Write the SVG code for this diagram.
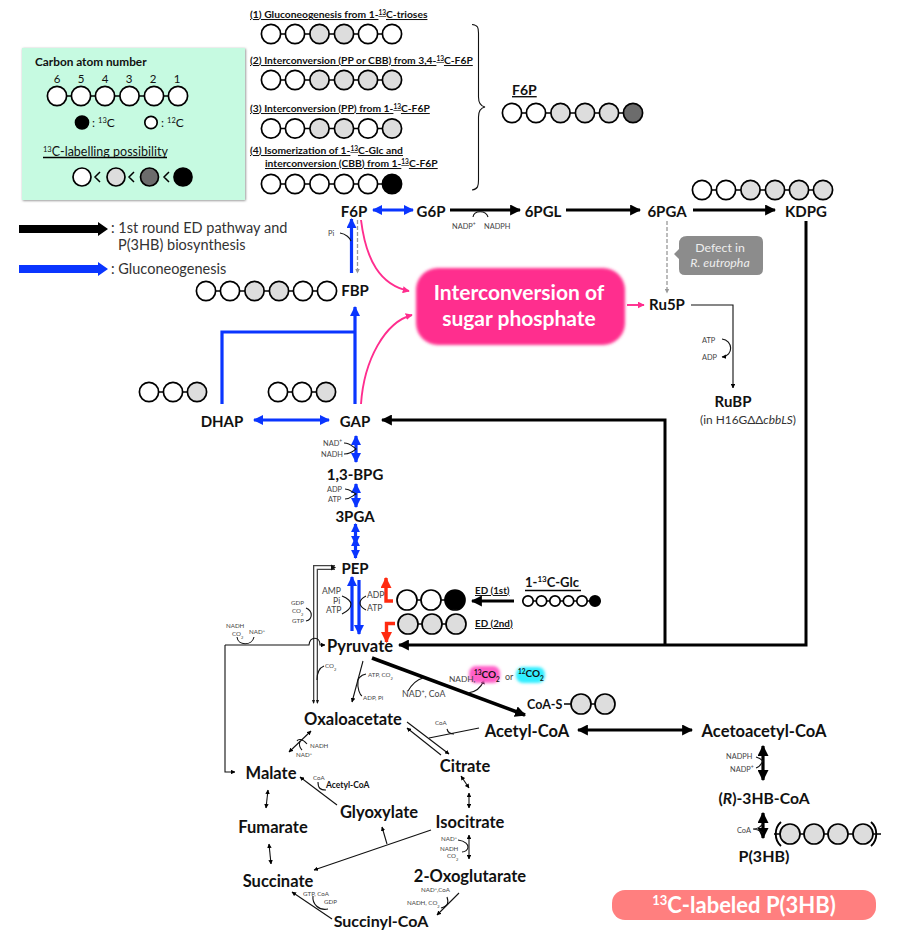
<svg xmlns="http://www.w3.org/2000/svg" width="897" height="930" viewBox="0 0 897 930">
<defs>
<style>
text{font-family:Lato,"Open Sans","Liberation Sans",sans-serif;fill:#111}
.n{font-weight:700;font-size:15px;text-anchor:middle}
.n2{font-weight:700;font-size:16.5px;text-anchor:middle}
.h{font-weight:700;font-size:10.3px;text-decoration:underline}
.t{font-size:6.2px;fill:#444}
.s{font-size:7.4px;fill:#444}
.m{font-size:8.6px;fill:#444}
.leg{font-size:14.5px;fill:#333}
.c{stroke:#000;stroke-width:1.7}
.w{fill:#fff}.g{fill:#ddd}.d{fill:#6c6c6c}.k{fill:#000}
.l{fill:none;stroke:#000;stroke-width:1.5}
.a{fill:none;stroke:#111;stroke-width:1.1}
.b1{fill:none;stroke:#000;stroke-width:3}
.bl{fill:none;stroke:#0a35ff;stroke-width:3.2}
.pk{fill:none;stroke:#ff2d8e;stroke-width:1.9}
.red{fill:none;stroke:#ff2a10;stroke-width:3.4}
.dash{fill:none;stroke:#999;stroke-width:1.3;stroke-dasharray:4 2}
</style>
<marker id="mk" viewBox="0 0 10 10" refX="9" refY="5" markerWidth="11" markerHeight="11" markerUnits="userSpaceOnUse" orient="auto-start-reverse"><path d="M0,0L10,5L0,10z" fill="#000"/></marker>
<marker id="mb" viewBox="0 0 10 10" refX="9" refY="5" markerWidth="10" markerHeight="10" markerUnits="userSpaceOnUse" orient="auto-start-reverse"><path d="M0,0L10,5L0,10z" fill="#0a35ff"/></marker>
<marker id="mb2" viewBox="0 0 10 10" refX="9" refY="5" markerWidth="9" markerHeight="9" markerUnits="userSpaceOnUse" orient="auto-start-reverse"><path d="M0,0L10,5L0,10z" fill="#0a35ff"/></marker>
<marker id="mr" viewBox="0 0 10 10" refX="9" refY="5" markerWidth="11" markerHeight="11" markerUnits="userSpaceOnUse" orient="auto-start-reverse"><path d="M0,0L10,5L0,10z" fill="#ff2a10"/></marker>
<marker id="mp" viewBox="0 0 10 10" refX="9" refY="5" markerWidth="7" markerHeight="7" markerUnits="userSpaceOnUse" orient="auto"><path d="M0,0L10,5L0,10z" fill="#ff2d8e"/></marker>
<marker id="mg" viewBox="0 0 10 10" refX="9" refY="5" markerWidth="5" markerHeight="5" markerUnits="userSpaceOnUse" orient="auto"><path d="M0,0L10,5L0,10z" fill="#999"/></marker>
<marker id="ms" viewBox="0 0 10 10" refX="9" refY="5" markerWidth="4.5" markerHeight="4.5" markerUnits="userSpaceOnUse" orient="auto-start-reverse"><path d="M0,0L10,5L0,10z" fill="#000"/></marker>
<filter id="sh" x="-5%" y="-5%" width="110%" height="110%"><feDropShadow dx="0.7" dy="0.7" stdDeviation="0.8" flood-color="#888"/></filter>
<filter id="bl" x="-10%" y="-10%" width="120%" height="120%"><feGaussianBlur stdDeviation="1.4"/></filter>
<filter id="gl" x="-30%" y="-50%" width="160%" height="200%"><feGaussianBlur stdDeviation="1.6"/></filter>
</defs>

<g id="legend">
<rect x="22" y="48" width="223" height="152" fill="#c6fae1" filter="url(#sh)"/>
<text x="35" y="66" font-size="11.8" font-weight="700">Carbon atom number</text>
<g font-size="11.5" text-anchor="middle"><text x="57" y="83">6</text><text x="81" y="83">5</text><text x="105" y="83">4</text><text x="129" y="83">3</text><text x="153" y="83">2</text><text x="177" y="83">1</text></g>
<path class="l" d="M57,96H178"/>
<circle class="c w" cx="57" cy="96" r="9.600"/><circle class="c w" cx="81" cy="96" r="9.600"/><circle class="c w" cx="105" cy="96" r="9.600"/><circle class="c w" cx="129.500" cy="96" r="9.600"/><circle class="c w" cx="154" cy="96" r="9.600"/><circle class="c w" cx="178" cy="96" r="9.600"/>
<circle class="c k" cx="82" cy="122.500" r="6.500"/><text x="92" y="127" font-size="12">: <tspan font-size="7.500" baseline-shift="super">13</tspan>C</text>
<circle class="c w" cx="151" cy="122.500" r="6.200"/><text x="161" y="127" font-size="12">: <tspan font-size="7.500" baseline-shift="super">12</tspan>C</text>
<text x="43" y="156" font-size="12.500"><tspan font-size="7.500" baseline-shift="super">13</tspan>C-labelling possibility</text>
<path d="M43,157.500H167" stroke="#000" stroke-width="1.300"/>
<circle class="c w" cx="82" cy="177" r="9"/><circle class="c g" cx="116" cy="177" r="9"/><circle class="c d" cx="149.500" cy="177" r="9"/><circle class="c k" cx="183" cy="177" r="9"/>
<path class="l" d="M100,172L95,177L100,182M134,172L129,177L134,182M169,172L164,177L169,182" stroke-width="1.800"/>
</g>

<g id="key">
<path d="M19,225H98V222L108,229L98,236V233H19z" fill="#000"/>
<text class="leg" x="111" y="233">: 1st round ED pathway and</text>
<text class="leg" x="118" y="250">P(3HB) biosynthesis</text>
<path d="M19,265H98V262L108,269L98,276V273H19z" fill="#0a35ff"/>
<text class="leg" x="111" y="274">: Gluconeogenesis</text>
</g>

<g id="scenarios">
<text class="h" x="250" y="18">(1) Gluconeogenesis from 1-<tspan font-size="6.500" baseline-shift="super">13</tspan>C-trioses</text>
<path class="l" d="M271,34H392"/>
<circle class="c w" cx="271" cy="34" r="9.600"/><circle class="c w" cx="295" cy="34" r="9.600"/><circle class="c g" cx="319.500" cy="34" r="9.600"/><circle class="c g" cx="344" cy="34" r="9.600"/><circle class="c w" cx="368" cy="34" r="9.600"/><circle class="c w" cx="392" cy="34" r="9.600"/>
<text class="h" x="250" y="64">(2) Interconversion (PP or CBB) from 3,4-<tspan font-size="6.500" baseline-shift="super">13</tspan>C-F6P</text>
<path class="l" d="M271,80H392"/>
<circle class="c w" cx="271" cy="80" r="9.600"/><circle class="c w" cx="295" cy="80" r="9.600"/><circle class="c g" cx="319.500" cy="80" r="9.600"/><circle class="c g" cx="344" cy="80" r="9.600"/><circle class="c g" cx="368" cy="80" r="9.600"/><circle class="c g" cx="392" cy="80" r="9.600"/>
<text class="h" x="250" y="112">(3) Interconversion (PP) from 1-<tspan font-size="6.500" baseline-shift="super">13</tspan>C-F6P</text>
<path class="l" d="M271,128.500H392"/>
<circle class="c w" cx="271" cy="128.500" r="9.600"/><circle class="c w" cx="295" cy="128.500" r="9.600"/><circle class="c g" cx="319.500" cy="128.500" r="9.600"/><circle class="c g" cx="344" cy="128.500" r="9.600"/><circle class="c w" cx="368" cy="128.500" r="9.600"/><circle class="c g" cx="392" cy="128.500" r="9.600"/>
<text class="h" x="250" y="154">(4) Isomerization of 1-<tspan font-size="6.500" baseline-shift="super">13</tspan>C-Glc and</text>
<text class="h" x="265" y="167">interconversion (CBB) from 1-<tspan font-size="6.500" baseline-shift="super">13</tspan>C-F6P</text>
<path class="l" d="M271,184H392"/>
<circle class="c w" cx="271" cy="184" r="9.600"/><circle class="c w" cx="295" cy="184" r="9.600"/><circle class="c w" cx="319.500" cy="184" r="9.600"/><circle class="c w" cx="344" cy="184" r="9.600"/><circle class="c w" cx="368" cy="184" r="9.600"/><circle class="c k" cx="392" cy="184" r="9.600"/>
<path class="a" d="M472,24.500C478,25 478.500,28 478.500,33V97C478.500,103 480,106 485,107C480,108 478.500,111 478.500,117V180C478.500,186 478,189 472,190"/>
<text x="512" y="95" font-size="14" font-weight="700" text-decoration="underline">F6P</text>
<path class="l" d="M512,113H633"/>
<circle class="c w" cx="512" cy="113" r="9.600"/><circle class="c w" cx="536" cy="113" r="9.600"/><circle class="c g" cx="560.500" cy="113" r="9.600"/><circle class="c g" cx="585" cy="113" r="9.600"/><circle class="c g" cx="609" cy="113" r="9.600"/><circle class="c d" cx="633" cy="113" r="9.600"/>
</g>

<g id="connectors">
<path class="bl" d="M373,210H413" marker-start="url(#mb)" marker-end="url(#mb)"/>
<path class="b1" d="M450,210H520" marker-end="url(#mk)"/>
<path class="b1" d="M566,210H640" marker-end="url(#mk)"/>
<path class="b1" d="M693,210H775" marker-end="url(#mk)"/>
<path class="a" d="M473,217C474,210 486,210 488,217" stroke-width="1.200"/>
<path class="b1" d="M806,221V645H399" marker-end="url(#mk)"/>
<path class="b1" d="M665,645V420H382" marker-end="url(#mk)"/>
<path class="dash" d="M667,221V293" marker-end="url(#mg)"/>
<path class="pk" d="M627,305H644" marker-end="url(#mp)"/>
<path class="a" d="M691,305H733V388" stroke-width="1.200" marker-end="url(#ms)"/>
<path class="a" d="M722,339C733,340 734,356 722,357" marker-end="url(#ms)"/>
<path class="bl" d="M351.500,273V219" marker-end="url(#mb)"/>
<path class="dash" d="M357.500,220V273" marker-end="url(#mg)"/>
<path class="a" d="M340,233C346,234 350,238 351,241"/>
<path class="pk" d="M361,220C366,260 380,285 409,291" marker-end="url(#mp)"/>
<path class="pk" d="M361,404C364,360 385,322 412,315" marker-end="url(#mp)"/>
<path class="bl" d="M355,404V307" marker-end="url(#mb)"/>
<path class="bl" d="M222,404V332H355" />
<path class="bl" d="M254,420H329" marker-start="url(#mb)" marker-end="url(#mb)"/>
<path class="bl" d="M356,436V462" marker-start="url(#mb)" marker-end="url(#mb)"/>
<path class="a" d="M344,443C350,443 352,446 356,449C352,452 350,454 344,454"/>
<path class="bl" d="M356,484V507" marker-start="url(#mb)" marker-end="url(#mb)"/>
<path class="a" d="M345,489C350,489 352,492 356,494C352,496 350,499 345,499"/>
<path class="bl" d="M355.500,524V544" marker-start="url(#mb2)" marker-end="url(#mb2)"/>
<path class="bl" d="M355.500,538V558" marker-start="url(#mb2)" marker-end="url(#mb2)"/>
<path class="bl" d="M352,631V577" marker-end="url(#mb)"/>
<path class="bl" d="M359,580V634" marker-end="url(#mb)"/>
<path class="a" d="M342,596C348,598 351,602 351,604C351,608 348,611 342,614"/>
<path class="a" d="M366,596C362,598 360,601 360,603C360,606 362,608 366,610"/>
<path class="red" d="M393,601H386V578" marker-end="url(#mr)"/>
<path class="red" d="M395,623.500H386.500V642" marker-end="url(#mr)"/>
<path class="b1" d="M514,601H472" marker-end="url(#mk)"/>
<path d="M335,567.500H315.500V703" fill="none" stroke="#444" stroke-width="5"/>
<path d="M337,567.500H315.500V703" fill="none" stroke="#fff" stroke-width="2.400"/>
<path d="M331,564.500L336,567.500L331,570.500z" fill="#111"/>
<path d="M312,700L313.500,704L315,700zM316,700L317.500,704L319,700z" fill="#111"/>
<path class="a" d="M225,645H309C310,636 320,636 320,645H325" stroke="#444" stroke-width="1.300" marker-end="url(#ms)"/>
<path class="a" d="M225,645V772H235" stroke="#444" stroke-width="1.300" marker-end="url(#ms)"/>
<path class="a" d="M237,637C238,646 252,646 254,637" stroke-width="1.300"/>
<path class="a" d="M306,608C313,611 313,619 306,621"/>
<path class="a" d="M317,680C317,673 319,668 324,666" stroke-width="1"/>
<path class="a" d="M363,661L352,702" marker-end="url(#ms)" stroke-width="1.200"/>
<path class="a" d="M366,674C360,675 357,680 358,682C357,688 360,695 362,696" stroke-width="1"/>
<path d="M372,658L525,715" fill="none" stroke="#000" stroke-width="3.600" marker-end="url(#mk)"/>
<path class="a" d="M408,691C412,684 416,680 423,678" stroke-width="1"/>
<path class="a" d="M468,693C476,692 481,688 484,680" stroke-width="1" marker-end="url(#ms)"/>
<path class="b1" d="M578,730H692" marker-start="url(#mk)" marker-end="url(#mk)"/>
<path d="M763,746V780" fill="none" stroke="#000" stroke-width="3.200" marker-start="url(#mk)" marker-end="url(#mk)"/>
<path class="a" d="M756,757C760,758 761,759 763,761C761,764 760,767 756,768"/>
<path d="M763,813V838" fill="none" stroke="#000" stroke-width="3.200" marker-start="url(#mk)" marker-end="url(#mk)"/>
<path class="a" d="M753,829C758,829 760,827 763,824M753,829C758,829 760,831 763,833"/>
<path class="a" d="M407,722L449,754" stroke-width="1.200" marker-end="url(#ms)"/>
<path class="a" d="M441,755L407,728" stroke-width="1.200" marker-end="url(#ms)"/>
<path class="a" d="M479,728L429,738" stroke-width="1.200"/>
<path class="a" d="M447,729C448,733 450,734 454,734"/>
<path class="a" d="M311,731L289,752" stroke-width="1.200" marker-start="url(#ms)" marker-end="url(#ms)"/>
<path class="a" d="M307,744C302,738 298,739 297,741"/>
<path class="a" d="M302,750C299,747 299,744 300,741"/>
<path class="a" d="M337,805L300,777" stroke-width="1.200" marker-end="url(#ms)"/>
<path class="a" d="M318,782C318,788 320,790 326,790"/>
<path class="a" d="M268,790L266,808" stroke-width="1.100" marker-start="url(#ms)" marker-end="url(#ms)"/>
<path class="a" d="M269,844L271,864" stroke-width="1.100" marker-start="url(#ms)" marker-end="url(#ms)"/>
<path class="a" d="M461,776L469,788" stroke-width="1.100" marker-start="url(#ms)" marker-end="url(#ms)"/>
<path class="a" d="M469,793V808" stroke-width="1.100" marker-start="url(#ms)" marker-end="url(#ms)"/>
<path class="a" d="M431,830L314,870" stroke-width="1.200" marker-end="url(#ms)"/>
<path class="a" d="M387,844L382,827" stroke-width="1.200" marker-end="url(#ms)"/>
<path class="a" d="M469,835V859" stroke-width="1.100" marker-start="url(#ms)" marker-end="url(#ms)"/>
<path class="a" d="M458,840C466,841 468,845 468,847C468,850 465,852 462,852"/>
<path class="a" d="M459,893L437,915" stroke-width="1.200" marker-end="url(#ms)"/>
<path class="a" d="M447,897C449,903 448,906 441,908"/>
<path class="a" d="M332,919L292,892" stroke-width="1.200" marker-end="url(#ms)"/>
<path class="a" d="M313,896C312,904 319,911 328,909"/>
</g>

<g id="node-F6P"><text class="n" x="354" y="217">F6P</text></g>
<g id="node-G6P"><text class="n" x="431" y="217">G6P</text></g>
<g id="node-6PGL"><text class="n" x="543" y="217">6PGL</text></g>
<g id="node-6PGA"><text class="n" x="667" y="217">6PGA</text></g>
<g id="node-KDPG"><text class="n" x="806" y="217">KDPG</text>
<path class="l" d="M702,190H823"/>
<circle class="c w" cx="702" cy="190" r="9.600"/><circle class="c w" cx="726" cy="190" r="9.600"/><circle class="c g" cx="750.500" cy="190" r="9.600"/><circle class="c g" cx="775" cy="190" r="9.600"/><circle class="c g" cx="799" cy="190" r="9.600"/><circle class="c g" cx="823" cy="190" r="9.600"/></g>
<g id="cofactors-top"><text class="s" x="452" y="229">NADP<tspan font-size="5" baseline-shift="super">+</tspan></text><text class="s" x="484" y="229">NADPH</text><text class="s" x="328" y="236">Pi</text></g>

<g id="node-Defect">
<path d="M687,236H757Q763,236 763,242V269Q763,275 757,275H685Q679,275 679,269V259L674,254L679,249V244Q679,236 687,236z" fill="#8c8c8c"/>
<text x="720" y="252" font-size="12.300" text-anchor="middle" style="fill:#eee">Defect in</text>
<text x="720" y="267" font-size="12.300" text-anchor="middle" font-style="italic" style="fill:#eee">R. eutropha</text>
</g>
<g id="node-Interconversion">
<rect x="416" y="268" width="209" height="77" rx="22" fill="#ff2d8e" filter="url(#bl)"/>
<text x="519" y="300" font-size="21" font-weight="700" text-anchor="middle" style="fill:#fff">Interconversion of</text>
<text x="519" y="326" font-size="21" font-weight="700" text-anchor="middle" style="fill:#fff">sugar phosphate</text>
</g>
<g id="node-Ru5P"><text class="n" x="667" y="310">Ru5P</text></g>
<g id="node-RuBP"><text class="n" x="733" y="407">RuBP</text>
<text x="748" y="424" font-size="11.900" text-anchor="middle" style="fill:#333">(in H16GΔΔ<tspan font-style="italic">cbbLS</tspan>)</text>
<text class="s" x="702" y="343">ATP</text><text class="s" x="702" y="360">ADP</text></g>
<g id="node-FBP"><text class="n" x="355" y="296">FBP</text>
<path class="l" d="M206,291H327"/>
<circle class="c w" cx="206" cy="291" r="9.600"/><circle class="c w" cx="230" cy="291" r="9.600"/><circle class="c g" cx="254.500" cy="291" r="9.600"/><circle class="c g" cx="279" cy="291" r="9.600"/><circle class="c w" cx="303" cy="291" r="9.600"/><circle class="c w" cx="327" cy="291" r="9.600"/></g>
<g id="node-DHAP"><text class="n" x="222" y="427">DHAP</text>
<path class="l" d="M149,392H197"/>
<circle class="c w" cx="149" cy="392" r="9.600"/><circle class="c w" cx="173" cy="392" r="9.600"/><circle class="c g" cx="197" cy="392" r="9.600"/></g>
<g id="node-GAP"><text class="n" x="355" y="427">GAP</text>
<path class="l" d="M278,392H326"/>
<circle class="c w" cx="278" cy="392" r="9.600"/><circle class="c w" cx="302" cy="392" r="9.600"/><circle class="c g" cx="326" cy="392" r="9.600"/></g>
<g id="node-BPG"><text class="n" x="355" y="480">1,3-BPG</text>
<text class="s" x="323" y="446">NAD<tspan font-size="5" baseline-shift="super">+</tspan></text><text class="s" x="321" y="457">NADH</text>
<text class="s" x="327" y="492">ADP</text><text class="s" x="328" y="502">ATP</text></g>
<g id="node-3PGA"><text class="n" x="355" y="522">3PGA</text></g>
<g id="node-PEP"><text class="n" x="355" y="574">PEP</text>
<text class="m" x="322" y="594">AMP</text><text class="m" x="333" y="604">Pi</text><text class="m" x="326" y="613">ATP</text><text class="m" x="367" y="598">ADP</text><text class="m" x="367" y="611">ATP</text></g>
<g id="node-Pyruvate"><text class="n2" x="360" y="652">Pyruvate</text>
<text class="t" x="226" y="628">NADH</text><text class="t" x="232" y="636">CO<tspan font-size="4" baseline-shift="sub">2</tspan></text><text class="t" x="249" y="634">NAD<tspan font-size="4" baseline-shift="super">+</tspan></text>
<text class="t" x="291" y="605">GDP</text><text class="t" x="292" y="613">CO<tspan font-size="4" baseline-shift="sub">2</tspan></text><text class="t" x="292" y="623">GTP</text>
<text class="t" x="325" y="668">CO<tspan font-size="4" baseline-shift="sub">2</tspan></text>
<text class="t" x="368" y="677">ATP, CO<tspan font-size="4" baseline-shift="sub">2</tspan></text><text class="t" x="363" y="700">ADP, Pi</text></g>
<g id="node-Pyr1st">
<path class="l" d="M407,600H455"/>
<circle class="c w" cx="407" cy="600" r="10"/><circle class="c w" cx="431" cy="600" r="10"/><circle class="c k" cx="455" cy="600" r="10"/>
<text class="h" x="475" y="594" style="font-size:9.800px">ED (1st)</text></g>
<g id="node-Pyr2nd">
<path class="l" d="M408,624H456"/>
<circle class="c g" cx="408" cy="624" r="10"/><circle class="c g" cx="432" cy="624" r="10"/><circle class="c g" cx="456" cy="624" r="10"/>
<text class="h" x="475" y="627" style="font-size:9.800px">ED (2nd)</text></g>
<g id="node-Glc"><text x="525" y="587" font-size="13" font-weight="700">1-<tspan font-size="8" baseline-shift="super">13</tspan>C-Glc</text>
<path d="M525,590.500H581" stroke="#000" stroke-width="1.300"/>
<path class="l" d="M528,601H595"/>
<circle class="c w" cx="528" cy="601" r="5.200"/><circle class="c w" cx="541.500" cy="601" r="5.200"/><circle class="c w" cx="555" cy="601" r="5.200"/><circle class="c w" cx="568.500" cy="601" r="5.200"/><circle class="c w" cx="582" cy="601" r="5.200"/><circle class="c k" cx="595" cy="601" r="5.200"/></g>
<g id="node-CO2">
<text class="m" x="402" y="697" style="font-size:8.800px">NAD<tspan font-size="5.500" baseline-shift="super">+</tspan>, CoA</text>
<rect x="469" y="666" width="31" height="17" rx="7" fill="#ff5fc8" filter="url(#gl)"/>
<text class="m" x="449" y="682" style="font-size:8.300px">NADH,</text>
<text x="474" y="678" font-size="10" font-weight="700"><tspan font-size="6.500" baseline-shift="super">13</tspan>CO<tspan font-size="6.500" baseline-shift="sub">2</tspan></text>
<text class="m" x="505" y="680" style="font-size:9px">or</text>
<rect x="516" y="667" width="29" height="16" rx="7" fill="#33eeff" filter="url(#gl)"/>
<text x="518" y="677" font-size="10" font-weight="700"><tspan font-size="6.500" baseline-shift="super">12</tspan>CO<tspan font-size="6.500" baseline-shift="sub">2</tspan></text>
</g>
<g id="node-CoAS"><text x="527" y="709" font-size="12.500" font-weight="700">CoA-S</text>
<path class="l" d="M564,704H605"/>
<circle class="c g" cx="581" cy="704" r="10"/><circle class="c g" cx="605" cy="704" r="10"/></g>
<g id="node-AcetylCoA"><text class="n2" x="527" y="737">Acetyl-CoA</text><text class="t" x="435" y="725">CoA</text></g>
<g id="node-Acetoacetyl"><text class="n2" x="764" y="737">Acetoacetyl-CoA</text>
<text class="s" x="726" y="759">NADPH</text><text class="s" x="730" y="772">NADP<tspan font-size="5" baseline-shift="super">+</tspan></text></g>
<g id="node-R3HB"><text class="n2" x="764" y="804" style="font-size:15.700px">(<tspan font-style="italic">R</tspan>)-3HB-CoA</text></g>
<g id="node-P3HB"><text class="n2" x="764" y="862" style="font-size:16px">P(3HB)</text><text class="s" x="737" y="833">CoA</text>
<path class="l" d="M774,834H881"/>
<path d="M781,822C774,828 774,840 781,846M871,822C878,828 878,840 871,846" fill="none" stroke="#000" stroke-width="1.900"/>
<circle class="c g" cx="790" cy="834" r="10"/><circle class="c g" cx="814" cy="834" r="10"/><circle class="c g" cx="838" cy="834" r="10"/><circle class="c g" cx="863" cy="834" r="10"/></g>
<g id="node-Labeled"><rect x="612" y="890" width="264" height="30" rx="13" fill="#ff7f7f"/>
<text x="744" y="913" font-size="22" font-weight="700" text-anchor="middle" style="fill:#fff"><tspan font-size="13" baseline-shift="super">13</tspan>C-labeled P(3HB)</text></g>
<g id="node-Oxaloacetate"><text class="n2" x="353" y="725">Oxaloacetate</text><text class="t" x="310" y="748">NADH</text><text class="t" x="296" y="757">NAD<tspan font-size="4" baseline-shift="super">+</tspan></text></g>
<g id="node-Citrate"><text class="n2" x="465" y="772">Citrate</text></g>
<g id="node-Malate"><text class="n2" x="271" y="779">Malate</text><text class="t" x="313" y="780">CoA</text><text x="326" y="788" font-size="8.500" font-weight="700">Acetyl-CoA</text></g>
<g id="node-Glyoxylate"><text class="n2" x="379" y="818">Glyoxylate</text></g>
<g id="node-Fumarate"><text class="n2" x="273" y="833">Fumarate</text></g>
<g id="node-Isocitrate"><text class="n2" x="470" y="828">Isocitrate</text>
<text class="t" x="441" y="841">NAD<tspan font-size="4" baseline-shift="super">+</tspan></text><text class="t" x="440" y="851">NADH</text><text class="t" x="447" y="858">CO<tspan font-size="4" baseline-shift="sub">2</tspan></text></g>
<g id="node-Succinate"><text class="n2" x="278" y="887">Succinate</text><text class="t" x="303" y="896">GTP, CoA</text><text class="t" x="324" y="904">GDP</text></g>
<g id="node-Oxoglutarate"><text class="n2" x="470" y="882">2-Oxoglutarate</text><text class="t" x="421" y="892">NAD<tspan font-size="4" baseline-shift="super">+</tspan>,CoA</text><text class="t" x="407" y="905">NADH, CO<tspan font-size="4" baseline-shift="sub">2</tspan></text></g>
<g id="node-SuccinylCoA"><text class="n2" x="381" y="927" style="font-size:16px">Succinyl-CoA</text></g>
</svg>
